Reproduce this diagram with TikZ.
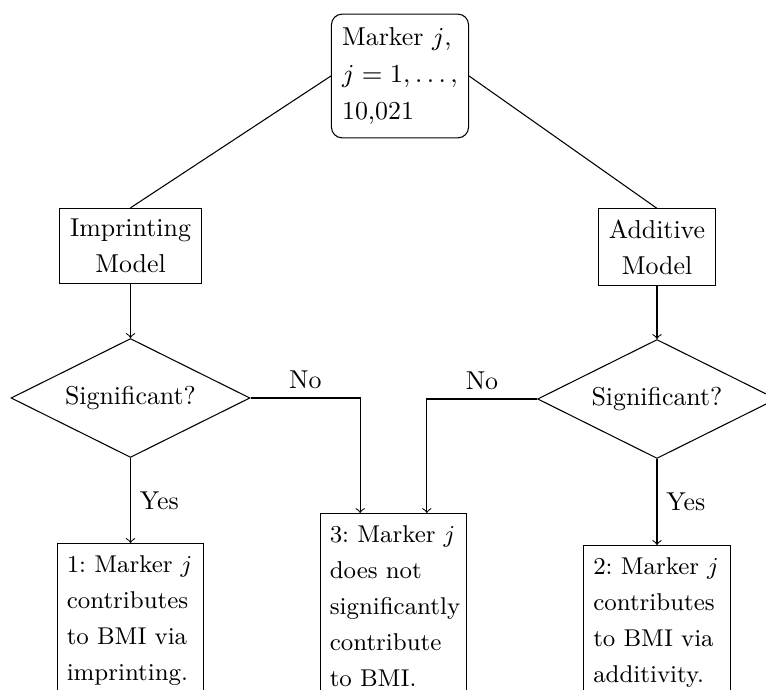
\documentclass[tikz,border=0pt]{standalone}
\usepackage{fix-cm}
\usepackage{tikz}
\usetikzlibrary{shapes.geometric}

\tikzset{
    markerbox/.style={draw, rounded corners=4pt, align=left, inner xsep=4pt, inner ysep=5pt,
        font=\fontsize{9.7}{13.9}\selectfont},
    modelbox/.style={draw, align=center, inner sep=4pt, font=\fontsize{9.7}{13.5}\selectfont},
    decision/.style={draw, diamond, aspect=2, inner sep=0pt, minimum width=89.6pt,
        minimum height=44.6pt, font=\fontsize{9.7}{12}\selectfont},
    outcome/.style={draw, anchor=north, text width=47.8pt, inner xsep=3.6pt, inner ysep=4.5pt,
        align=left, font=\fontsize{9.1}{13.5}\selectfont\frenchspacing},
    answer/.style={font=\fontsize{9.7}{12}\selectfont},
}

\begin{document}
\begin{tikzpicture}[x=0.375pt, y=-0.375pt, >=to]
        \useasboundingbox (0,0) rectangle (766,690);
        \clip (0,0) rectangle (766,690);

        % Draw boxes
        \node[markerbox] (mk) at (400,76) {Marker $j$,\\ $j=1,\ldots,$\\ 10,021};
        \node[modelbox] (imp) at (130.5,246) {Imprinting\\ Model};
        \node[modelbox] (add) at (657,247) {Additive\\ Model};
        \node[decision] (sigl) at (130.5,398) {Significant?};
        \node[decision] (sigr) at (657,399) {Significant?};
        \node[outcome] (res1) at (130.5,543) {1:~Marker~$j$\\ contributes\\ to BMI via\\ imprinting.};
        \node[outcome] (res3) at (393.5,513) {3:~Marker~$j$\\ does not\\ significantly\\ contribute\\ to BMI.};
        \node[outcome] (res2) at (657,545) {2:~Marker~$j$\\ contributes\\ to BMI via\\ additivity.};

        % Draw connectors
        \draw (mk.west) -- (imp.north);
        \draw (mk.east) -- (add.north);
        \draw[->] (imp) -- (sigl);
        \draw[->] (add) -- (sigr);
        \draw[->] (sigl) -- node[answer, right]{Yes} (res1);
        \draw[->] (sigr) -- node[answer, right]{Yes} (res2);
        \draw[->] (sigl.east) -| node[answer, above, pos=0.25]{No} ([xshift=-12.5pt]res3.north);
        \draw[->] (sigr.west) -| node[answer, above, pos=0.25]{No} ([xshift=12.5pt]res3.north);
    \end{tikzpicture}
\end{document}
